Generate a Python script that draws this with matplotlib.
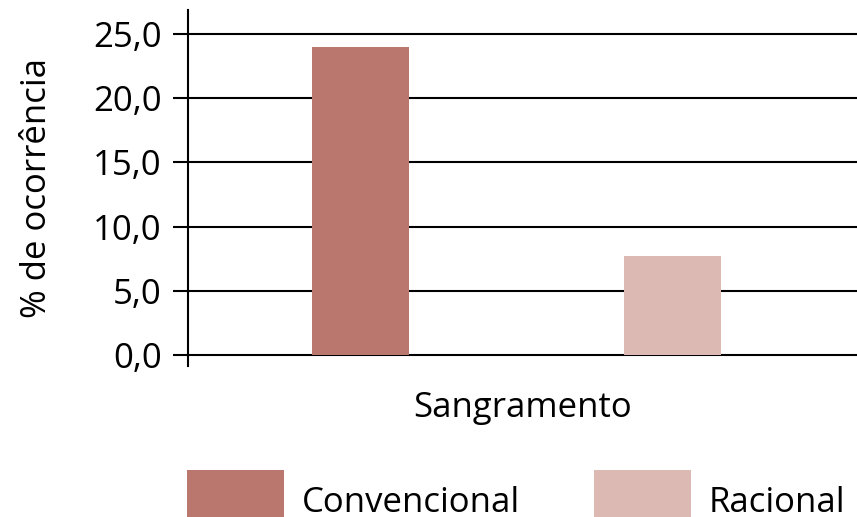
import matplotlib
matplotlib.use("Agg")
import matplotlib.pyplot as plt
from matplotlib.patches import Patch

categories = ["Convencional", "Racional"]
values = [24.0, 7.7]
colors = ["#b9776d", "#dcbab3"]
yticks = [0, 5, 10, 15, 20, 25]
ytick_labels = ["0,0", "5,0", "10,0", "15,0", "20,0", "25,0"]
xlabel = "Sangramento"
ylabel = "% de ocorrência"

plt.rcParams['font.family'] = ['Open Sans', 'DejaVu Sans']
FS = 25

fig = plt.figure(figsize=(8.57, 5.17), dpi=100)
ax = fig.add_axes([188/857, (517-366)/517, 1 - 188/857, (366-10)/517])

xpos = list(range(len(categories)))
ax.bar(xpos, values, width=0.31, color=colors, zorder=3)

ax.set_xlim(-0.553, 1.591)
ax.set_ylim(-0.86, 26.87)
ax.set_yticks(yticks)
ax.set_yticklabels(ytick_labels, fontsize=FS)
ax.set_xticks([])
for y in yticks:
    ax.axhline(y, color="black", lw=1.5, zorder=1)

for s in ["top", "right", "bottom"]:
    ax.spines[s].set_visible(False)
ax.spines["left"].set_linewidth(1.5)
ax.tick_params(axis="y", direction="out", length=11, width=1.5, pad=8)

ax.set_xlabel(xlabel, fontsize=FS, labelpad=18)
ax.set_ylabel(ylabel, fontsize=FS, labelpad=28)

handles = [Patch(facecolor=c, edgecolor="none") for c in colors]
fig.legend(handles, categories, loc="upper left", bbox_to_anchor=(187/857, 1 - 470/517),
           ncol=2, frameon=False, fontsize=FS, handlelength=2.8, handleheight=2.4,
           columnspacing=2.13, handletextpad=0.5, borderpad=0, borderaxespad=0)

fig.savefig("out.png", dpi=100)
